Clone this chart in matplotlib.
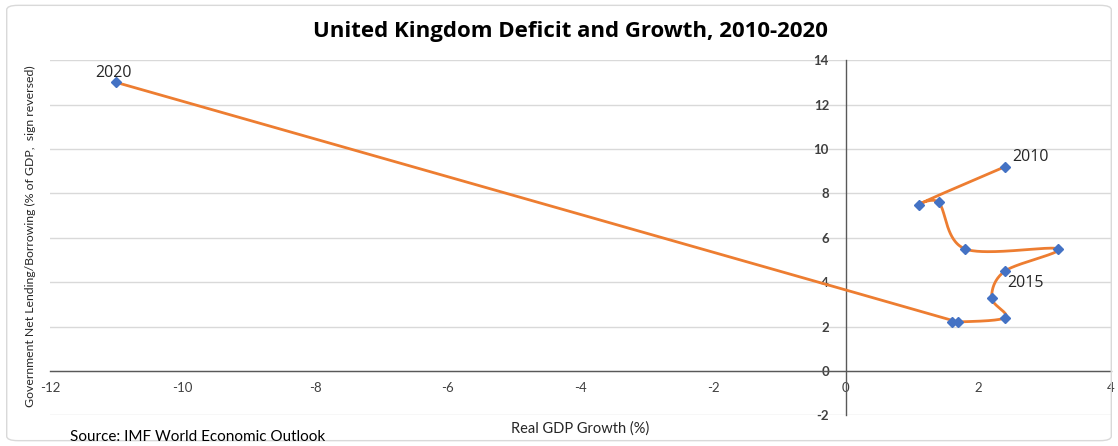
import numpy as np
import matplotlib
matplotlib.use("Agg")
import matplotlib.pyplot as plt
from matplotlib.patches import FancyBboxPatch

plt.rcParams["axes.unicode_minus"] = False

# Real GDP growth (%) and government net borrowing (% of GDP, sign reversed)
years = [2010, 2011, 2012, 2013, 2014, 2015, 2016, 2017, 2018, 2019, 2020]
gdp_growth = [2.4, 1.1, 1.4, 1.8, 3.2, 2.4, 2.2, 2.4, 1.6, 1.7, -11.0]
deficit = [9.2, 7.5, 7.6, 5.5, 5.5, 4.5, 3.3, 2.4, 2.2, 2.2, 13.0]
labelled_years = [2010, 2015, 2020]
x_ticks = [-12, -10, -8, -6, -4, -2, 0, 2, 4]
y_ticks = [-2, 0, 2, 4, 6, 8, 10, 12, 14]

LINE = "#ED7D31"
MARK = "#4472C4"
TXT = "#262626"
FONT = "Lato"
FONT2 = "Open Sans"


def smooth_path(xs, ys, scale=(1.0, 1.0), n=60):
    """Smoothed line: cubic Bezier segments with Catmull-Rom tangents,
    limited so short segments do not overshoot."""
    s = np.asarray(scale, float)
    p = np.column_stack([xs, ys]).astype(float) * s
    ext = np.vstack([p[0], p, p[-1]])
    t = np.linspace(0, 1, n)[:, None]
    out = []
    for i in range(len(p) - 1):
        p0, p1, p2, p3 = ext[i], ext[i + 1], ext[i + 2], ext[i + 3]
        seg_len = np.linalg.norm(p2 - p1)
        d1 = (p2 - p0) / 6.0
        d2 = (p3 - p1) / 6.0
        for d in (d1, d2):
            m = np.linalg.norm(d)
            if m > 0.5 * seg_len and m > 0:
                d *= 0.5 * seg_len / m
        c1 = p1 + d1
        c2 = p2 - d2
        seg = ((1 - t) ** 3) * p1 + 3 * ((1 - t) ** 2) * t * c1 \
            + 3 * (1 - t) * t ** 2 * c2 + t ** 3 * p2
        out.append(seg if i == 0 else seg[1:])
    return np.vstack(out) / s


fig = plt.figure(figsize=(11.18, 4.46), dpi=100)
fig.patch.set_facecolor("white")
fig.patches.append(FancyBboxPatch((0.006, 0.012), 0.988, 0.976,
                                  boxstyle="round,pad=0,rounding_size=0.01",
                                  transform=fig.transFigure, facecolor="none",
                                  edgecolor="#d9d9d9", linewidth=1.0))

ax = fig.add_axes([0.0447, 0.0686, 0.9490, 0.7964])
ax.set_xlim(-12, 4)
ax.set_ylim(-2, 14)

ax.set_yticks(y_ticks)
ax.set_xticks(x_ticks)
ax.yaxis.grid(True, color="#d9d9d9", linewidth=1.0)
ax.set_axisbelow(True)

for s in ("top", "right"):
    ax.spines[s].set_visible(False)
ax.spines["left"].set_position(("data", 0))
ax.spines["bottom"].set_position(("data", 0))
ax.spines["left"].set_color("#595959")
ax.spines["bottom"].set_color("#595959")
ax.spines["left"].set_linewidth(1.0)
ax.spines["bottom"].set_linewidth(1.0)
ax.tick_params(axis="both", length=0, labelcolor="#404040", labelsize=9.5)
ax.tick_params(axis="y", pad=12)
ax.tick_params(axis="x", pad=8)
for lab in ax.get_yticklabels():
    lab.set_fontfamily(FONT)
    lab.set_fontweight("bold")
for lab in ax.get_xticklabels():
    lab.set_fontfamily(FONT)

# axes pixels per data unit, so the smoothing works in screen proportions
px_x = 0.9490 * 1118 / 16.0
px_y = 0.7964 * 446 / 16.0
curve = smooth_path(gdp_growth, deficit, scale=(px_x, px_y))
ax.plot(curve[:, 0], curve[:, 1], color=LINE, linewidth=2.0, zorder=3)
ax.plot(gdp_growth, deficit, linestyle="none", marker="D", markersize=5.5,
        color=MARK, zorder=4)

offsets = {2010: (5, 1, "left", "bottom"),
           2015: (2, -3, "left", "top"),
           2020: (-15, 1, "left", "bottom")}
for yr in labelled_years:
    i = years.index(yr)
    dx, dy, ha, va = offsets[yr]
    ax.annotate(str(yr), (gdp_growth[i], deficit[i]), xytext=(dx, dy),
                textcoords="offset points", ha=ha, va=va, fontsize=11.5,
                color=TXT, fontfamily=FONT2)

fig.text(0.510, 0.930, "United Kingdom Deficit and Growth, 2010-2020",
         ha="center", va="center", fontsize=16, fontweight="bold",
         color="black", fontfamily=FONT2)
fig.text(0.519, 0.040, "Real GDP Growth (%)", ha="center", va="center",
         fontsize=10.5, color=TXT, fontfamily=FONT)
fig.text(0.027, 0.47, "Government Net Lending/Borrowing (% of GDP,  sign reversed)",
         ha="center", va="center", rotation=90, fontsize=8.8, color=TXT,
         fontfamily=FONT)
fig.text(0.063, 0.020, "Source: IMF World Economic Outlook", ha="left",
         va="center", fontsize=11, color="black", fontfamily=FONT)

fig.savefig("out.png", dpi=100)
